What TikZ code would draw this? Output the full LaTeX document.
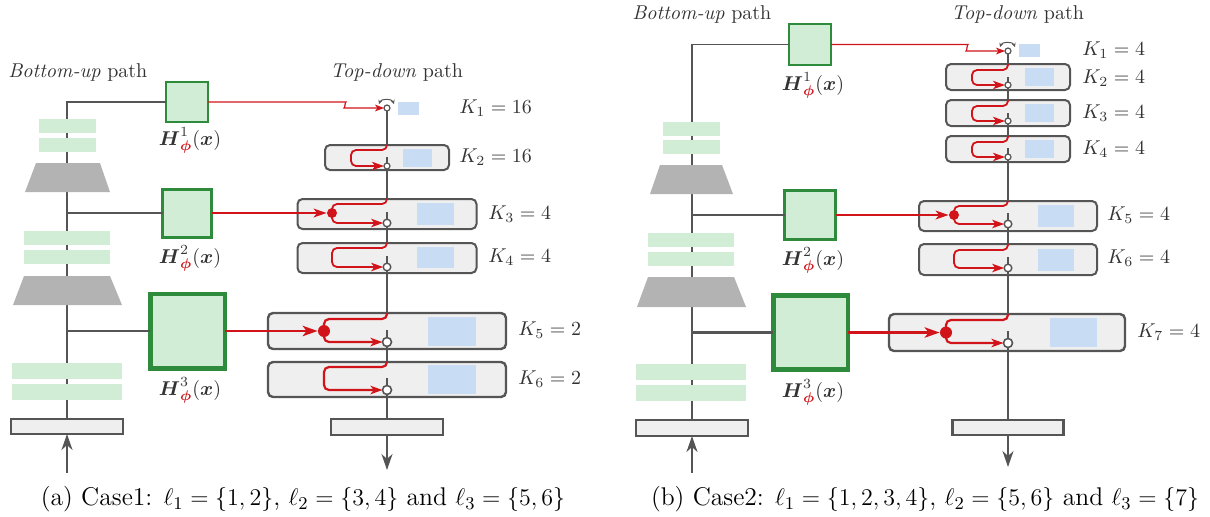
\documentclass[tikz,border=0pt]{standalone}
\usepackage{amsmath}
\usetikzlibrary{arrows.meta,calc}

\definecolor{redc}{HTML}{D0141A}
\definecolor{hgreen}{HTML}{2E8B3C}
\definecolor{hfill}{HTML}{D2EDD5}
\definecolor{barg}{HTML}{D2EDD5}
\definecolor{trapg}{HTML}{B3B3B3}
\definecolor{linegray}{HTML}{555555}
\definecolor{blkfill}{HTML}{EFEFEF}
\definecolor{blueb}{HTML}{C8DCF4}
\definecolor{txt}{HTML}{333333}

\newcommand{\Hlab}[1]{$\boldsymbol{H}^{#1}_{\textcolor{redc}{\boldsymbol{\phi}}}(\boldsymbol{x})$}

\tikzset{
  gl/.style={draw=linegray, line width=0.8pt},
  rl/.style={draw=redc, line width=0.9pt, rounded corners=2.5pt},
  blk/.style={draw=linegray, fill=blkfill, line width=1pt, rounded corners=2.5pt, inner sep=0pt, outer sep=0pt},
  iobox/.style={draw=linegray, fill=blkfill, line width=1.1pt, inner sep=0pt, outer sep=0pt},
  hbox/.style={draw=hgreen, fill=hfill, inner sep=0pt, outer sep=0pt},
  port/.style={circle, draw=linegray, fill=white, line width=0.8pt, inner sep=0pt, outer sep=0pt, minimum size=4.5pt},
  mport/.style={port, minimum size=3.8pt, line width=0.7pt},
  sport/.style={port, minimum size=3pt, line width=0.6pt},
  jdot/.style={circle, fill=redc, inner sep=0pt, minimum size=5pt},
  klab/.style={anchor=west, text=txt, inner sep=0pt},
  hlab/.style={text=txt, inner sep=0pt},
  ttl/.style={text=txt, inner sep=0pt, anchor=west},
  captxt/.style={text=black, inner sep=0pt, font=\fontsize{12.8}{15}\selectfont},
  tipS/.style={-{Stealth[length=6pt,width=4.2pt,inset=1.6pt]}},
  tipA/.style={-{Stealth[length=4.5pt,width=3.4pt,inset=1.2pt]}},
  tipB/.style={-{Stealth[length=6.5pt,width=4.4pt,inset=1.7pt]}},
  tipC/.style={-{Stealth[length=7.5pt,width=5.2pt,inset=2pt]}},
  tipG/.style={-{Stealth[length=8pt,width=5.5pt,inset=2.5pt]}},
  bar/.style={fill=barg},
  trap/.style={fill=trapg},
  slot/.style={fill=blueb},
}

\begin{document}
\begin{tikzpicture}[x=0.5pt, y=-0.5pt, font=\fontsize{10}{12}\selectfont]
\useasboundingbox (0,0) rectangle (1210,516);

% ================= left panel: case 1 =================
% titles
\node[ttl] (tbuA) at (8,72) {\textit{Bottom-up} path};
\node[ttl] (ttdA) at (330,72) {\textit{Top-down} path};

% bottom-up spine
\coordinate (sA1) at (67,102);
\coordinate (sA2) at (67,213);
\coordinate (sA3) at (67,331);
\node[iobox, minimum width=56pt, minimum height=7.5pt] (ioA) at (67,426.5) {};
\coordinate (inA) at (67,473);
\node[hbox, line width=1pt, minimum width=21pt, minimum height=20pt] (H1a) at (187,102) {};
\node[hbox, line width=1.5pt, minimum width=24.5pt, minimum height=24pt] (H2a) at (187,213) {};
\node[hbox, line width=2.25pt, minimum width=37.25pt, minimum height=37.25pt] (H3a) at (187.5,331) {};
\draw[gl, line width=0.55pt] (H1a.west) -- (sA1) -- (67,180);
\draw[gl, line width=0.85pt] (67,180) -- (67,290);
\draw[gl, line width=1.1pt] (67,290) -- (ioA.north);
\draw[gl, line width=0.85pt] (H2a.west) -- (sA2);
\draw[gl, line width=1.1pt] (H3a.west) -- (sA3);
\draw[gl, line width=1.1pt, tipG] (inA) -- (ioA.south);
% encoder layers
\fill[bar] (39,119) rectangle (96,133);
\fill[bar] (39,138) rectangle (96,152);
\fill[trap] (36,163) -- (100,163) -- (110,192) -- (25,192) -- cycle;
\fill[bar] (24,231) rectangle (110,245);
\fill[bar] (24,250) rectangle (110,264);
\fill[trap] (24,276) -- (110,276) -- (122,305) -- (13,305) -- cycle;
\fill[bar] (12,363) rectangle (122,379);
\fill[bar] (12,384) rectangle (122,400);
% head labels
\node[hlab] (lH1a) at (190,140) {\Hlab{1}};
\node[hlab] (lH2a) at (190,258) {\Hlab{2}};
\node[hlab] (lH3a) at (190,390) {\Hlab{3}};

% top-down blocks
\node[blk, minimum width=62pt, minimum height=12.5pt] (a2) at (387,157.5) {};
\node[blk, minimum width=89.5pt, minimum height=15pt] (a3) at (387,214) {};
\node[blk, minimum width=89.5pt, minimum height=15pt] (a4) at (387,258) {};
\node[blk, line width=1.2pt, minimum width=119pt, minimum height=18pt] (a5) at (387,331) {};
\node[blk, line width=1.2pt, minimum width=119pt, minimum height=17.5pt] (a6) at (387,379.5) {};
\node[iobox, minimum width=56pt, minimum height=8pt] (ioA2) at (387,427) {};
\coordinate (outA) at (387,470);
% latent slots
\fill[slot] (398,102) rectangle (419,115);
\fill[slot] (403,149) rectangle (432,167);
\fill[slot] (417,203) rectangle (454,225);
\fill[slot] (417,247) rectangle (454,268);
\fill[slot] (428,317) rectangle (476,346);
\fill[slot] (428,365) rectangle (476,394);
% ports
\node[sport] (pA1) at (387,108) {};
\node[sport] (pA2) at (387,166) {};
\node[mport] (pA3) at (387,223) {};
\node[mport] (pA4) at (387,267) {};
\node[port] (pA5) at (387,342) {};
\node[port] (pA6) at (387,390) {};
% trunk
\draw[gl] (pA1) -- (a2.north -| pA1);
\draw[gl] (pA2) -- (a3.north -| pA2);
\draw[gl] (pA3) -- (a4.north -| pA3);
\draw[gl] (pA4) -- (a5.north -| pA4);
\draw[gl] (pA5) -- (a6.north -| pA5);
\draw[gl] (pA6) -- (ioA2.north -| pA6);
\draw[gl] (pA2.north) -- ++(0,-6);
\draw[gl] (pA3.north) -- ++(0,-7);
\draw[gl] (pA4.north) -- ++(0,-7);
\draw[gl] (pA5.north) -- ++(0,-8);
\draw[gl] (pA6.north) -- ++(0,-8);
\draw[gl, line width=1pt, tipG] (ioA2.south) -- (outA);
\draw[gl, line width=0.5pt, {Stealth[length=2pt,width=2pt]}-{Stealth[length=2pt,width=2pt]}]
  ($(pA1)+(-8,-4)$) to[bend left=70] ($(pA1)+(7,-4)$);
% red routes
\draw[rl, line width=0.6pt, tipA] (H1a.east) -- (341,102) .. controls (345,102) and (345,108) .. (349,108) -- (pA1);
\draw[rl, tipS] (a2.north -| pA2) -- (387,150) -- (351,150) -- (351,166) -- (pA2);
\draw[rl, tipS] (a3.north -| pA3) -- (387,204) -- (332,204) -- (332,223) -- (pA3);
\draw[rl, tipS] (a4.north -| pA4) -- (387,248) -- (332,248) -- (332,267) -- (pA4);
\draw[rl, line width=1.1pt, tipS] (a5.north -| pA5) -- (387,319) -- (324,319) -- (324,342) -- (pA5);
\draw[rl, line width=1.1pt, tipS] (a6.north -| pA6) -- (387,367) -- (324,367) -- (324,390) -- (pA6);
\node[jdot, minimum size=5pt] (jA3) at (332,213) {};
\node[jdot, minimum size=6pt] (jA5) at (324,331) {};
\draw[rl, tipB] (H2a.east) -- (jA3);
\draw[rl, line width=1.2pt, tipC] (H3a.east) -- (jA5);
% group sizes
\node[klab] (kA1) at (459,108) {$K_1 = 16$};
\node[klab] (kA2) at (459,157) {$K_2 = 16$};
\node[klab] (kA3) at (488,214) {$K_3 = 4$};
\node[klab] (kA4) at (488,257) {$K_4 = 4$};
\node[klab] (kA5) at (518,330) {$K_5 = 2$};
\node[klab] (kA6) at (518,379) {$K_6 = 2$};
\node[captxt] (capA) at (303,499) {(a) Case1: $\ell_1 = \{1,2\}$, $\ell_2 = \{3,4\}$ and $\ell_3 = \{5,6\}$};

% ================= right panel: case 2 =================
\node[ttl] (tbuB) at (632,14) {\textit{Bottom-up} path};
\node[ttl] (ttdB) at (951,14) {\textit{Top-down} path};

\coordinate (sB1) at (692,44.5);
\coordinate (sB2) at (692,215);
\coordinate (sB3) at (692,332.5);
\node[iobox, minimum width=56pt, minimum height=8pt] (ioB) at (692,428) {};
\coordinate (inB) at (692,473);
\node[hbox, line width=1pt, minimum width=21pt, minimum height=20.5pt] (H1b) at (810,44.5) {};
\node[hbox, line width=1.5pt, minimum width=25.5pt, minimum height=24.5pt] (H2b) at (810,215) {};
\node[hbox, line width=2.25pt, minimum width=37.25pt, minimum height=37pt] (H3b) at (810.5,332.5) {};
\draw[gl, line width=0.55pt] (H1b.west) -- (sB1) -- (692,180);
\draw[gl, line width=0.85pt] (692,180) -- (692,290);
\draw[gl, line width=1.1pt] (692,290) -- (ioB.north);
\draw[gl, line width=0.85pt] (H2b.west) -- (sB2);
\draw[gl, line width=1.1pt] (H3b.west) -- (sB3);
\draw[gl, line width=1.1pt, tipG] (inB) -- (ioB.south);
\fill[bar] (663,122) rectangle (720,136);
\fill[bar] (663,140) rectangle (720,154);
\fill[trap] (660,165) -- (722,165) -- (733,194) -- (650,194) -- cycle;
\fill[bar] (648,233) rectangle (734,247);
\fill[bar] (648,252) rectangle (734,266);
\fill[trap] (648,277) -- (734,277) -- (746,307) -- (637,307) -- cycle;
\fill[bar] (636,364) rectangle (746,380);
\fill[bar] (636,385) rectangle (746,401);
\node[hlab] (lH1b) at (813,85) {\Hlab{1}};
\node[hlab] (lH2b) at (813,260) {\Hlab{2}};
\node[hlab] (lH3b) at (813,392) {\Hlab{3}};

\node[blk, minimum width=62pt, minimum height=13pt] (b2) at (1008,77) {};
\node[blk, minimum width=62pt, minimum height=13pt] (b3) at (1008,113) {};
\node[blk, minimum width=62pt, minimum height=13pt] (b4) at (1008,149) {};
\node[blk, minimum width=89pt, minimum height=15pt] (b5) at (1008,216) {};
\node[blk, minimum width=89pt, minimum height=15.5pt] (b6) at (1008,259.5) {};
\node[blk, line width=1.2pt, minimum width=118pt, minimum height=18.5pt] (b7) at (1007,332.5) {};
\node[iobox, minimum width=55.5pt, minimum height=7.5pt] (ioB2) at (1008,427.5) {};
\coordinate (outB) at (1008,467);
\fill[slot] (1019,44) rectangle (1040,57);
\fill[slot] (1025,68) rectangle (1054,86);
\fill[slot] (1025,104) rectangle (1054,122);
\fill[slot] (1025,140) rectangle (1054,158);
\fill[slot] (1038,205) rectangle (1074,227);
\fill[slot] (1038,249) rectangle (1074,271);
\fill[slot] (1050,318) rectangle (1097,347);
\node[sport] (pB1) at (1008,51) {};
\node[sport] (pB2) at (1008,85) {};
\node[sport] (pB3) at (1008,121) {};
\node[sport] (pB4) at (1008,157) {};
\node[mport] (pB5) at (1008,224) {};
\node[mport] (pB6) at (1008,268) {};
\node[port] (pB7) at (1008,343) {};
\draw[gl] (pB1) -- (b2.north -| pB1);
\draw[gl] (pB2) -- (b3.north -| pB2);
\draw[gl] (pB3) -- (b4.north -| pB3);
\draw[gl] (pB4) -- (b5.north -| pB4);
\draw[gl] (pB5) -- (b6.north -| pB5);
\draw[gl] (pB6) -- (b7.north -| pB6);
\draw[gl] (pB7) -- (ioB2.north -| pB7);
\draw[gl] (pB2.north) -- ++(0,-5);
\draw[gl] (pB3.north) -- ++(0,-5);
\draw[gl] (pB4.north) -- ++(0,-6);
\draw[gl] (pB5.north) -- ++(0,-7);
\draw[gl] (pB6.north) -- ++(0,-7);
\draw[gl] (pB7.north) -- ++(0,-8);
\draw[gl, line width=1pt, tipG] (ioB2.south) -- (outB);
\draw[gl, line width=0.5pt, {Stealth[length=2pt,width=2pt]}-{Stealth[length=2pt,width=2pt]}]
  ($(pB1)+(-8,-4)$) to[bend left=70] ($(pB1)+(7,-4)$);
\draw[rl, line width=0.6pt, tipA] (H1b.east) -- (963,44.5) .. controls (967,44.5) and (967,51) .. (971,51) -- (pB1);
\draw[rl, tipS] (b2.north -| pB2) -- (1008,70) -- (972,70) -- (972,85) -- (pB2);
\draw[rl, tipS] (b3.north -| pB3) -- (1008,106) -- (972,106) -- (972,121) -- (pB3);
\draw[rl, tipS] (b4.north -| pB4) -- (1008,142) -- (972,142) -- (972,157) -- (pB4);
\draw[rl, tipS] (b5.north -| pB5) -- (1008,206) -- (954,206) -- (954,224) -- (pB5);
\draw[rl, tipS] (b6.north -| pB6) -- (1008,250) -- (954,250) -- (954,268) -- (pB6);
\draw[rl, line width=1.1pt, tipS] (b7.north -| pB7) -- (1008,320) -- (946,320) -- (946,343) -- (pB7);
\node[jdot, minimum size=5pt] (jB5) at (954,215) {};
\node[jdot, minimum size=6pt] (jB7) at (946,332.5) {};
\draw[rl, tipB] (H2b.east) -- (jB5);
\draw[rl, line width=1.2pt, tipC] (H3b.east) -- (jB7);
\node[klab] (kB1) at (1082,50) {$K_1 = 4$};
\node[klab] (kB2) at (1082,78) {$K_2 = 4$};
\node[klab] (kB3) at (1082,113) {$K_3 = 4$};
\node[klab] (kB4) at (1082,149) {$K_4 = 4$};
\node[klab] (kB5) at (1107,215) {$K_5 = 4$};
\node[klab] (kB6) at (1107,258) {$K_6 = 4$};
\node[klab] (kB7) at (1137,332) {$K_7 = 4$};
\node[captxt] (capB) at (925,499) {(b) Case2: $\ell_1 = \{1,2,3,4\}$, $\ell_2 = \{5,6\}$ and $\ell_3 = \{7\}$};
\end{tikzpicture}
\end{document}
